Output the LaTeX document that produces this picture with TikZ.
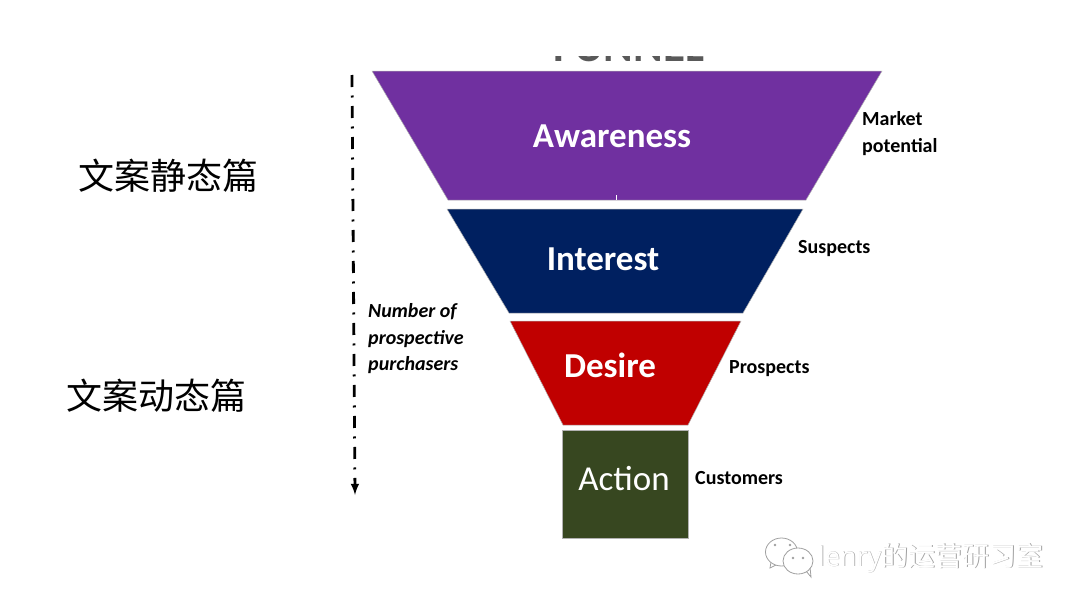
\documentclass[tikz,border=0pt]{standalone}
\usepackage{fontspec}
\setmainfont{Carlito}
\newfontfamily\cjk{Noto Sans CJK SC}
\newfontfamily\markfont{Open Sans}
\definecolor{awarepurple}{HTML}{7030A0}
\definecolor{interestnavy}{HTML}{002060}
\definecolor{desirered}{HTML}{C00000}
\definecolor{actiongreen}{HTML}{374720}
\definecolor{markgray}{HTML}{A0A0A0}
\tikzset{
    stage/.style={draw=gray!60!white, line width=0.5pt},
    stagetext/.style={text=white, font=\fontsize{35}{35}\selectfont\bfseries, inner sep=0pt},
    sidetext/.style={anchor=west, align=left, inner sep=0pt, font=\fontsize{20}{27}\selectfont\bfseries},
    cjktext/.style={anchor=west, inner sep=0pt, font=\fontsize{36}{36}\selectfont\cjk},
    bubble/.style={draw=markgray, fill=white, line width=0.8pt},
}
\begin{document}
\begin{tikzpicture}[x=1pt, y=-1pt]
    \useasboundingbox (0,0) rectangle (1080,608);

    % cut off title
    \begin{scope}
        \clip (500,56) rectangle (760,61);
        \node[inner sep=0pt, text=black!65, font=\fontsize{45}{45}\selectfont\bfseries, anchor=base] (title) at (629,61) {FUNNEL};
    \end{scope}

    % funnel
    \draw[stage, fill=awarepurple] (372,71) -- (882,71) -- (806,200) -- (448,200) -- cycle;
    \draw[stage, fill=interestnavy] (447,209) -- (803,209) -- (743,313) -- (509,313) -- cycle;
    \draw[stage, fill=desirered] (510,321) -- (741,321) -- (688,425) -- (563,425) -- cycle;
    \draw[stage, fill=actiongreen] (562,430) rectangle (688,538);
    \draw[white, line width=1pt] (616,195) -- (616,200);

    \node[stagetext] (awareness) at (612,136) {Awareness};
    \node[stagetext] (interest) at (603,259) {Interest};
    \node[stagetext] (desire) at (610,365) {Desire};
    \node[stagetext, font=\fontsize{35}{35}\selectfont] (action) at (624,479) {Action};

    % labels on the right
    \node[sidetext] (market) at (862,134) {Market\\potential};
    \node[sidetext] (suspects) at (798,249) {Suspects};
    \node[sidetext] (prospects) at (729,369) {Prospects};
    \node[sidetext] (customers) at (695,478) {Customers};

    % arrow on the left
    \coordinate (arrowtop) at (352,75);
    \coordinate (arrowend) at (355,495);
    \draw[-latex, line width=2.8pt, dash pattern=on 12pt off 8.5pt on 2pt off 8.5pt] (arrowtop) -- (arrowend);
    \node[sidetext, font=\fontsize{20}{26.5}\selectfont\bfseries\itshape] (purchasers) at (368,339) {Number of\\prospective\\purchasers};

    \node[cjktext] (statictext) at (78,176) {文案静态篇};
    \node[cjktext] (dynamictext) at (66,396) {文案动态篇};

    % watermark
    \draw[bubble] (771,562) -- (770,568) -- (778,564);
    \draw[bubble] (781.5,552) ellipse (16pt and 14pt);
    \draw[bubble] (806,571) -- (811,577) -- (810,567);
    \draw[bubble] (798,561) ellipse (15pt and 13pt);
    \foreach \px/\py in {775/545, 790/545, 793/558, 803/558} {
        \fill[markgray] (\px,\py) circle (1.3pt);
    }
    \node[anchor=west, inner sep=0pt, text=markgray, font=\fontsize{27}{27}\selectfont\markfont] (markbase) at (818.7,558.7) {lenry\cjk 的运营研习室};
    \node[anchor=west, inner sep=0pt, text=white, font=\fontsize{27}{27}\selectfont\markfont] (marktop) at (818,558) {lenry\cjk 的运营研习室};
\end{tikzpicture}
\end{document}
